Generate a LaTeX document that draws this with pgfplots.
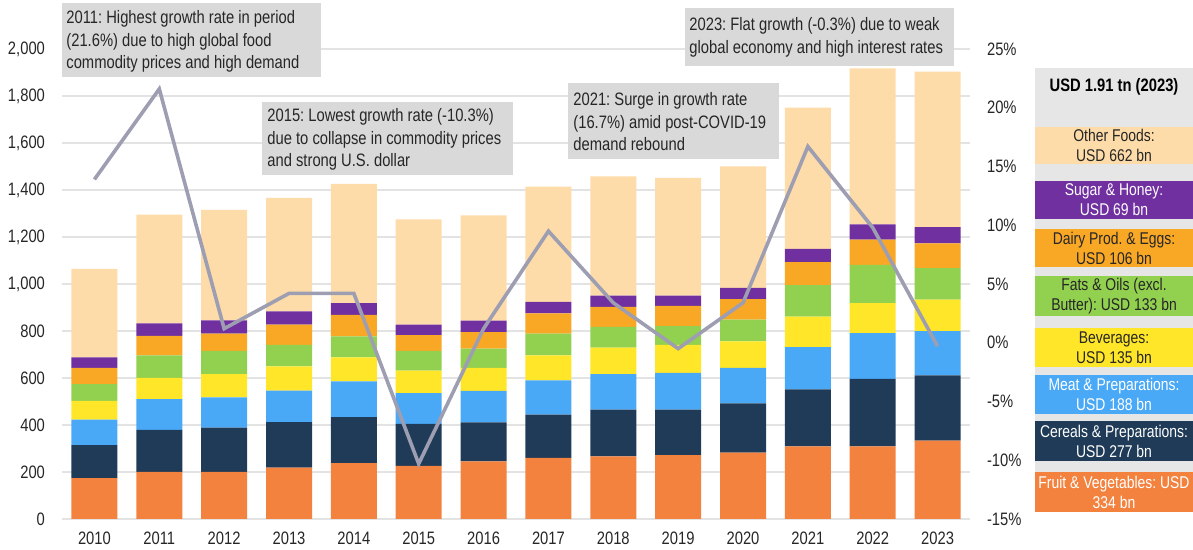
\documentclass[border=0pt]{standalone}
\usepackage{fontspec}
\setmainfont{Liberation Sans}[FakeStretch=0.82]
\usepackage{pgfplots}
\pgfplotsset{compat=1.18}
\usepackage{pgfplotstable}

\definecolor{cfruit}{HTML}{F3823F}
\definecolor{ccereal}{HTML}{1F3B57}
\definecolor{cmeat}{HTML}{4AA9F6}
\definecolor{cbev}{HTML}{FFE628}
\definecolor{cfats}{HTML}{92D050}
\definecolor{cdairy}{HTML}{F9A826}
\definecolor{csugar}{HTML}{7030A0}
\definecolor{cother}{HTML}{FDDCA9}
\definecolor{cline}{HTML}{9E9EB2}
\definecolor{gridgray}{HTML}{E3E3E3}
\definecolor{annotgray}{HTML}{D9D9D9}
\definecolor{leggray}{HTML}{E6E6E6}
\definecolor{txt}{HTML}{262626}

% food import value, USD bn
\pgfplotstableread{
idx fruit cereals meat bev fats dairy sugar other
0  174 140 109  80  71  69 45 376
1  201 178 131  91  95  83 53 463
2  201 188 129  98  99  74 56 470
3  219 193 134 103  92  86 56 483
4  238 195 153 102  89  92 50 507
5  226 179 131  95  84  67 45 448
6  245 166 134  98  82  70 49 448
7  260 184 146 106  93  86 49 490
8  266 199 151 113  88  86 48 507
9  272 193 157 119  80  86 44 501
10 282 210 151 113  92  88 48 516
11 309 243 179 130 134  98 56 602
12 309 287 195 128 162 108 65 664
13 334 277 188 135 133 106 69 662
}\foodtable

% growth rate, percent
\pgfplotstableread{
idx growth
0  13.9
1  21.6
2  1.2
3  4.2
4  4.2
5  -10.3
6  1.2
7  9.5
8  3.4
9  -0.5
10 3.4
11 16.7
12 9.8
13 -0.3
}\growthtable

\pgfplotsset{
  base/.style={
    at={(31pt,15.5pt)}, anchor=south west,
    scale only axis, width=454pt, height=235pt,
    xmin=-0.5, xmax=13.5,
    axis line style={draw=none}, tick style={draw=none},
    ticklabel style={font=\fontsize{9}{11}\selectfont, text=txt},
    /pgf/number format/assume math mode=true,
  }
}

\begin{document}
\frenchspacing
\begin{tikzpicture}
\useasboundingbox (0,0) rectangle (596.5pt,275pt);

\begin{axis}[base,
  ymin=0, ymax=2000, ytick={0,200,...,2000},
  ybar stacked, bar width=23pt,
  xtick={0,...,13},
  xticklabels={2010,2011,2012,2013,2014,2015,2016,2017,2018,2019,2020,2021,2022,2023},
  ymajorgrids, grid style={draw=gridgray, line width=0.6pt},
  /pgf/number format/1000 sep={,},
  yticklabel style={xshift=-5pt},
  xticklabel style={yshift=-3pt},
]
\addplot[fill=cfruit, draw=none] table[x=idx, y=fruit]{\foodtable};
\addplot[fill=ccereal, draw=none] table[x=idx, y=cereals]{\foodtable};
\addplot[fill=cmeat, draw=none] table[x=idx, y=meat]{\foodtable};
\addplot[fill=cbev, draw=none] table[x=idx, y=bev]{\foodtable};
\addplot[fill=cfats, draw=none] table[x=idx, y=fats]{\foodtable};
\addplot[fill=cdairy, draw=none] table[x=idx, y=dairy]{\foodtable};
\addplot[fill=csugar, draw=none] table[x=idx, y=sugar]{\foodtable};
\addplot[fill=cother, draw=none] table[x=idx, y=other]{\foodtable};
\end{axis}

\begin{axis}[base,
  ymin=-15, ymax=25, ytick={-15,-10,...,25},
  axis y line*=right, axis x line=none,
  yticklabel={\pgfmathprintnumber{\tick}\%},
  yticklabel style={anchor=west, xshift=5pt},
]
\addplot[cline, line width=1.8pt, mark=none] table[x=idx, y=growth]{\growthtable};
\end{axis}

\begin{scope}[x=0.5pt, y=-0.5pt, shift={(0pt,275pt)},
  annot/.style={anchor=west, align=left, inner sep=0pt,
    text=txt, font=\fontsize{9}{11.25}\selectfont},
  leg/.style={align=center, font=\fontsize{8.5}{10}\selectfont}]
% annotation boxes
\fill[annotgray] (62,3) rectangle (321,77);
\node[annot] at (66,41.5)
  {2011: Highest growth rate in period\\(21.6\%) due to high global food\\commodity prices and high demand};
\fill[annotgray] (262,102) rectangle (513,175);
\node[annot] at (267,139.5)
  {2015: Lowest growth rate (-10.3\%)\\due to collapse in commodity prices\\and strong U.S. dollar};
\fill[annotgray] (568,83) rectangle (779,159);
\node[annot] at (573,122)
  {2021: Surge in growth rate\\(16.7\%) amid post-COVID-19\\demand rebound};
\fill[annotgray] (685,8) rectangle (954,66);
\node[annot] at (689,37.5)
  {2023: Flat growth (-0.3\%) due to weak\\global economy and high interest rates};

% side panel
\fill[leggray] (1035,68) rectangle (1193,512);
\node[font=\bfseries\fontsize{9}{11}\selectfont, text=black] at (1114,87) {USD 1.91 tn (2023)};
\fill[cother]  (1035,127) rectangle (1193,164);
\node[leg, text=txt] at (1114,145.5) {Other Foods:\\USD 662 bn};
\fill[csugar]  (1035,181) rectangle (1193,219);
\node[leg, text=white] at (1114,200) {Sugar \& Honey:\\USD 69 bn};
\fill[cdairy]  (1035,229) rectangle (1193,267);
\node[leg, text=txt] at (1114,248) {Dairy Prod. \& Eggs:\\USD 106 bn};
\fill[cfats]   (1035,276) rectangle (1193,316);
\node[leg, text=txt] at (1114,296) {Fats \& Oils (excl.\\Butter): USD 133 bn};
\fill[cbev]    (1035,328) rectangle (1193,367);
\node[leg, text=txt] at (1114,347.5) {Beverages:\\USD 135 bn};
\fill[cmeat]   (1035,375) rectangle (1193,414);
\node[leg, text=white] at (1114,394.5) {Meat \& Preparations:\\USD 188 bn};
\fill[ccereal] (1035,421) rectangle (1193,461);
\node[leg, text=white] at (1114,441) {Cereals \& Preparations:\\USD 277 bn};
\fill[cfruit]  (1035,472) rectangle (1193,512);
\node[leg, text=white] at (1114,492) {Fruit \& Vegetables: USD\\334 bn};
\end{scope}
\end{tikzpicture}
\end{document}
